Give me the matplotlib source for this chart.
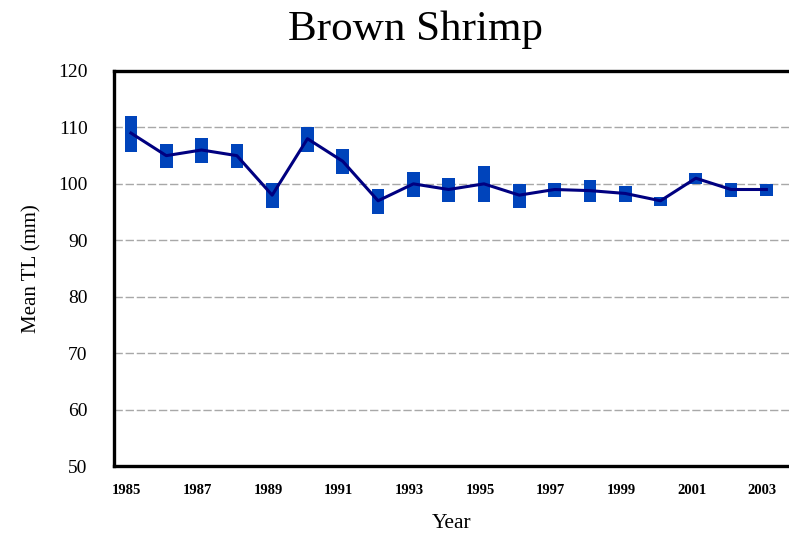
import numpy as np
import matplotlib.pyplot as plt
import matplotlib.transforms as mtransforms

plt.rcParams['font.family'] = 'Liberation Serif'

years = np.arange(1985, 2004)
mean_tl = [109, 105, 106, 105, 98, 108, 104, 97, 100, 99, 100, 98, 99, 98.8, 98.3, 97, 101, 99, 99]
low = [105.7, 102.8, 103.7, 102.8, 95.7, 105.7, 101.8, 94.7, 97.7, 96.7, 96.7, 95.7, 97.7, 96.8, 96.7, 96.0, 99.9, 97.7, 97.8]
high = [112.1, 107.1, 108.1, 107.1, 100.1, 110.0, 106.1, 99.0, 102.1, 101.0, 103.1, 100.0, 100.1, 100.7, 99.7, 97.7, 102.0, 100.1, 100.0]

fig = plt.figure(figsize=(7.89, 5.37), dpi=100)
ax = fig.add_axes([0.1445, 0.1322, 0.8555, 0.7356])

lo = np.array(low)
hi = np.array(high)
ax.bar(years, hi - lo, bottom=lo, width=0.36, color='#0044BB', zorder=2)
ax.plot(years, mean_tl, color='#000080', lw=2.2, zorder=3)

ax.set_xlim(1984.52, 2003.64)
ax.set_ylim(50, 120)
ax.set_yticks(range(50, 121, 10))
ax.set_xticks(years[::2])
ax.set_xticklabels([str(y) for y in years[::2]], fontweight='bold', fontsize=10.5)
ax.tick_params(axis='x', length=0, pad=13)
ax.tick_params(axis='y', length=0, pad=19, labelsize=14)
shift = mtransforms.ScaledTranslation(-4 / 100, 0, fig.dpi_scale_trans)
for lab in ax.get_xticklabels():
    lab.set_transform(lab.get_transform() + shift)

for v in range(60, 120, 10):
    ax.axhline(v, color='#a8a8a8', lw=1, ls=(0, (6, 2)), zorder=1)

for s in ['left', 'top', 'bottom']:
    ax.spines[s].set_linewidth(2.4)
ax.spines['right'].set_visible(False)

fig.text(0.526, 0.944, 'Brown Shrimp', fontsize=31, ha='center', va='center')
ax.set_ylabel('Mean TL (mm)', fontsize=15, labelpad=12)
ax.set_xlabel('Year', fontsize=15.5, labelpad=12)

fig.savefig('out.png', dpi=100)
